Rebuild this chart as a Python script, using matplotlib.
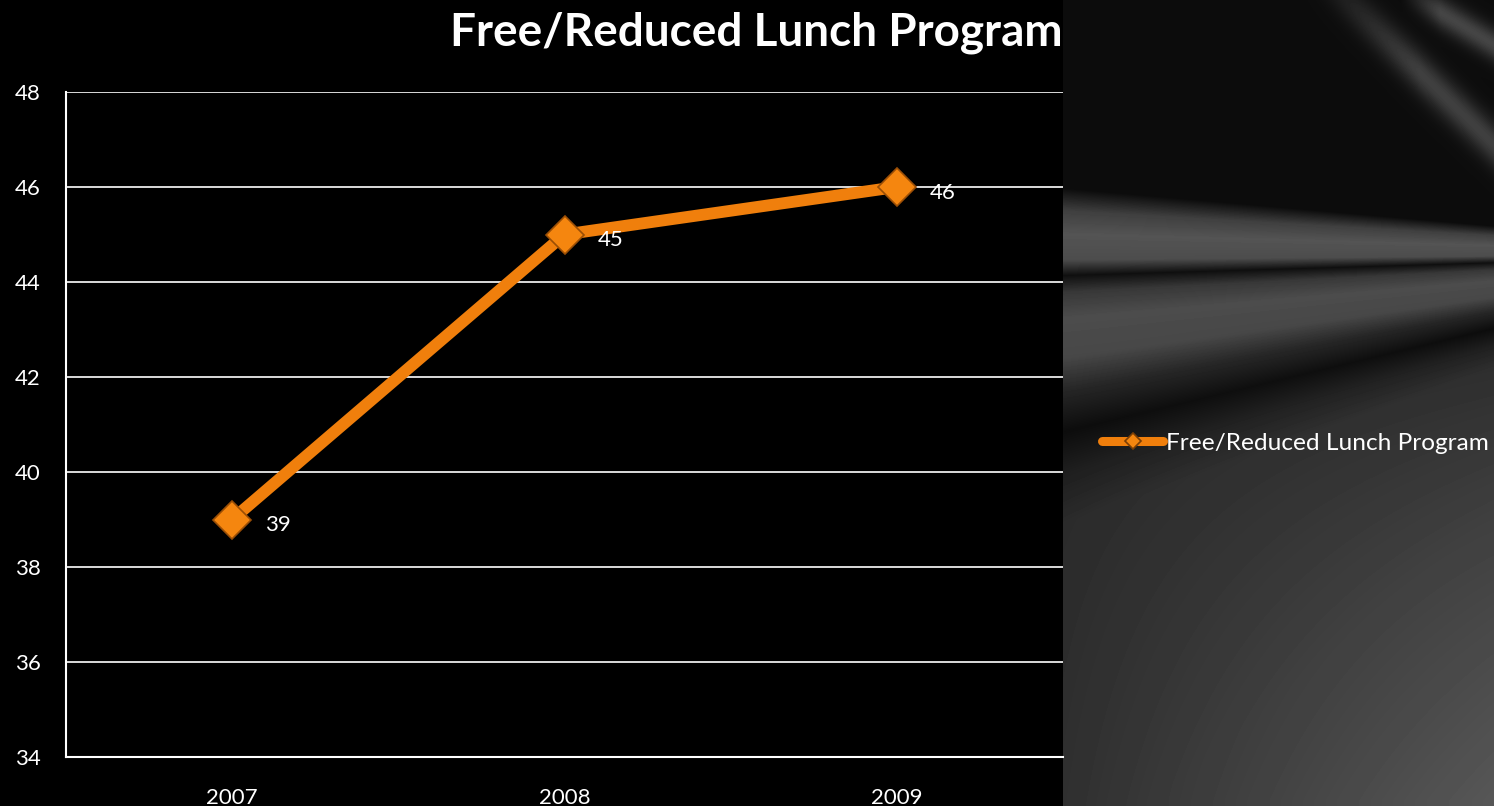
import numpy as np
import matplotlib
matplotlib.use("Agg")
import matplotlib.pyplot as plt
from matplotlib.lines import Line2D

# data
years = ["2007", "2008", "2009"]
values = [39, 45, 46]
series_name = "Free/Reduced Lunch Program"
title = "Free/Reduced Lunch Program"

plt.rcParams['font.family'] = ['Lato', 'DejaVu Sans']

W, H = 1494, 806
fig = plt.figure(figsize=(W / 100, H / 100), dpi=100, facecolor="black")

# background streaks on the right side (decoration only)
bg = fig.add_axes([0, 0, 1, 1])
bg.set_axis_off()
yy, xx = np.mgrid[0:H, 0:W].astype(float)
# rays converging to a point right of the picture
theta = np.degrees(np.arctan2(yy - 253, 1806 - xx))
th_pts = [-40, -5.0, -3.3, -1.5, 0.5, 1.7, 3.0, 5.0, 8.0, 10.5, 13.5, 16.5, 20, 40]
g_pts = [0.05, 0.05, 0.25, 0.33, 0.30, 0.06, 0.22, 0.30, 0.28, 0.15, 0.05, 0.12, 0.17, 0.19]
img = np.interp(theta, th_pts, g_pts)
# lighter toward the bottom right
img += 0.15 * np.clip((xx - 1063) / 431, 0, 1) * np.clip((yy - 330) / 470, 0, 1)
# light streaks in the top right corner
img += 0.20 * np.exp(-((yy - 0.97 * (xx - 1345)) / 22) ** 2) * np.clip((xx - 1300) / 120, 0, 1)
img += 0.22 * np.exp(-((yy - 0.6 * (xx - 1420)) / 16) ** 2) * np.clip((xx - 1400) / 40, 0, 1)
img = np.clip(img, 0, 1) * (xx >= 1063)
bg.imshow(img, cmap="gray", vmin=0, vmax=1, extent=[0, W, H, 0], aspect="auto",
          interpolation="bilinear")
bg.set_xlim(0, W)
bg.set_ylim(H, 0)

ax = fig.add_axes([66 / W, 1 - 757 / H, (1063 - 66) / W, (757 - 92) / H])
ax.set_facecolor("black")
x = np.arange(len(years))
ax.plot(x, values, color="#F07F0C", lw=8.5, solid_capstyle="butt",
        marker="D", markersize=19, markerfacecolor="#F5860F",
        markeredgecolor="#9A4E05", markeredgewidth=1.2, zorder=3)
for xi, v in zip(x, values):
    ax.annotate(str(v), (xi, v), xytext=(24, -4), textcoords="offset points",
                color="white", fontsize=16, va="center", ha="left")

ax.set_xlim(-0.5, 2.5)
ax.set_ylim(34, 48)
ax.set_yticks(range(34, 49, 2))
ax.set_xticks(x)
ax.set_xticklabels(years)
ax.grid(axis="y", color="white", lw=1.2)
ax.set_axisbelow(True)
for s in ["top", "right"]:
    ax.spines[s].set_visible(False)
for s in ["left", "bottom"]:
    ax.spines[s].set_color("white")
    ax.spines[s].set_linewidth(1.5)
ax.tick_params(colors="white", labelsize=16, length=0)
ax.tick_params(axis="x", pad=22)
ax.tick_params(axis="y", pad=18)

fig.text(756 / W, 1 - 33 / H, title, color="white", fontsize=33,
         fontweight="bold", ha="center", va="center")

handle = Line2D([], [], color="#F07F0C", lw=6.5, solid_capstyle="round",
                marker="D", markersize=8, markerfacecolor="#F5860F",
                markeredgecolor="#7A3E05", markeredgewidth=1.2)
fig.legend([handle], [series_name], loc="center left",
           bbox_to_anchor=(1102 / W, 1 - 443 / H),
           frameon=False, fontsize=17.6, labelcolor="white",
           handlelength=2.5, handletextpad=0.1, borderaxespad=0, borderpad=0)

fig.savefig("out.png", dpi=100, facecolor="black")
